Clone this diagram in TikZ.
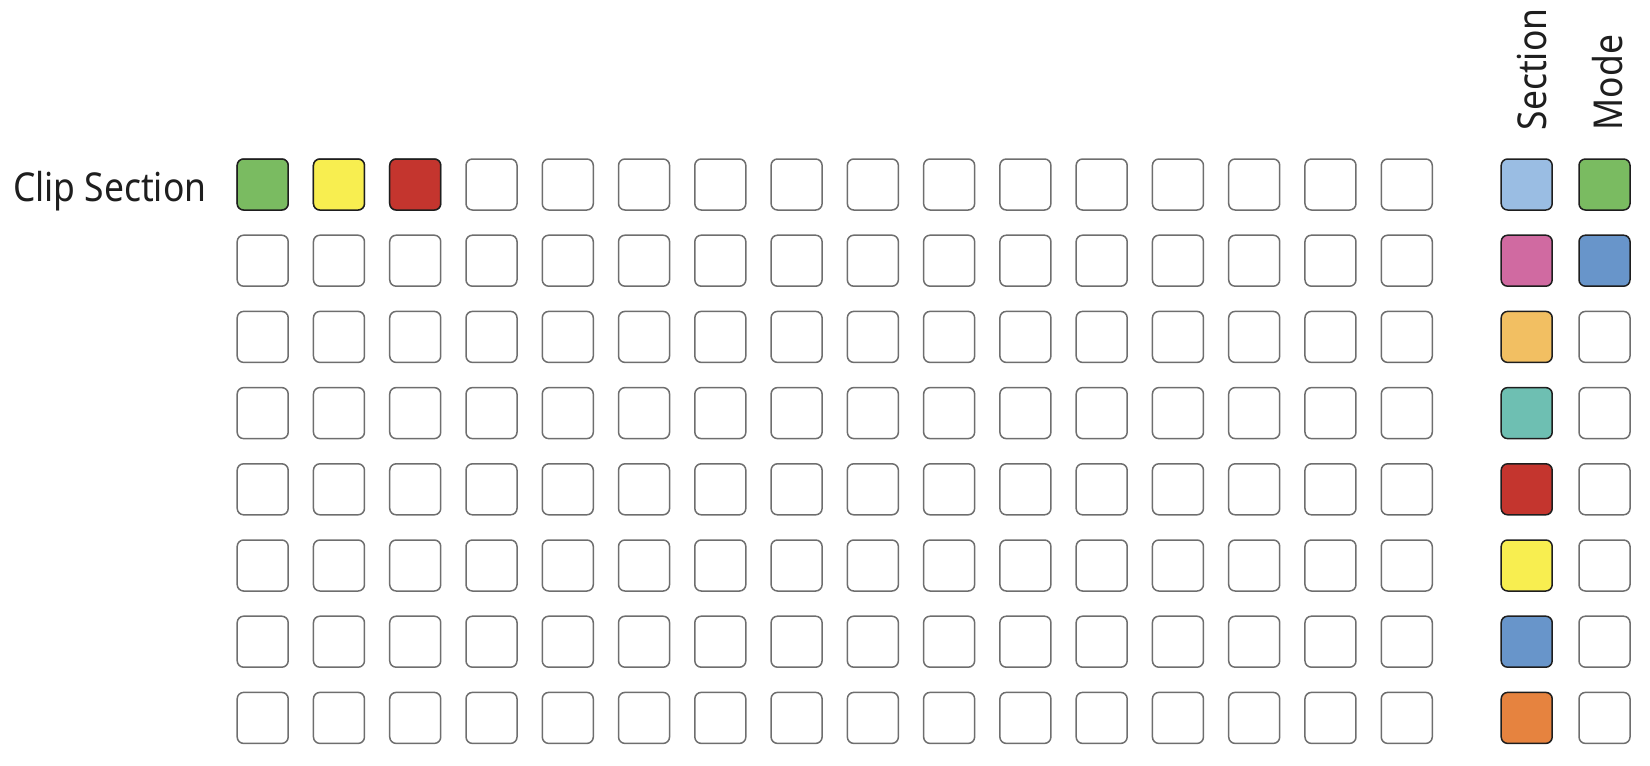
\documentclass[tikz,border=0pt]{standalone}
\usepackage{fontspec}
\setmainfont{Noto Sans}[FakeStretch=0.89]
\definecolor{cgreen}{HTML}{7ABB61}
\definecolor{cyellow}{HTML}{F8EE50}
\definecolor{cred}{HTML}{C4352E}
\definecolor{clblue}{HTML}{9ABDE3}
\definecolor{cpink}{HTML}{D06AA1}
\definecolor{clorange}{HTML}{F2BF62}
\definecolor{cteal}{HTML}{6EBFB2}
\definecolor{cblue}{HTML}{6895CA}
\definecolor{corange}{HTML}{E6833F}
\definecolor{cempty}{HTML}{6E6E6E}
\definecolor{ctext}{HTML}{1E1E1E}
\tikzset{
  pad/.style={draw=cempty, fill=white, line width=0.75pt, rounded corners=3.2pt,
    minimum size=25.5pt, inner sep=0pt, shape=rectangle},
  padon/.style={pad, draw=ctext, fill=#1},
  lbl/.style={text=ctext, font=\fontsize{19.9pt}{24pt}\selectfont, inner sep=0pt}
}
\begin{document}
\begin{tikzpicture}[x=0.5pt,y=-0.5pt]
\useasboundingbox (0,0) rectangle (1650,766);
% grid
\foreach \r in {0,...,7}{
  \foreach \c in {0,...,15}{
    \node[pad] (g-\r-\c) at ({262.7+76.27*\c},{184.5+76.2*\r}) {};
  }
}
\node[padon=cgreen]  (g-0-0) at (262.7,184.5) {};
\node[padon=cyellow] (g-0-1) at ({262.7+76.27},184.5) {};
\node[padon=cred]    (g-0-2) at ({262.7+2*76.27},184.5) {};
% section column
\foreach \col [count=\i from 0] in {clblue,cpink,clorange,cteal,cred,cyellow,cblue,corange}{
  \node[padon=\col] (s-\i) at (1526.7,{184.5+76.2*\i}) {};
}
% mode column
\node[padon=cgreen] (m-0) at (1604.5,184.5) {};
\node[padon=cblue]  (m-1) at (1604.5,{184.5+76.2}) {};
\foreach \i in {2,...,7}{
  \node[pad] (m-\i) at (1604.5,{184.5+76.2*\i}) {};
}
% labels
\node[lbl, anchor=base west] (clip) at (12.7,201.7) {Clip Section};
\node[lbl, anchor=base west, rotate=90] (sec) at (1546.7,130.7) {Section};
\node[lbl, anchor=base west, rotate=90] (mode) at (1622.7,130.7) {Mode};
\end{tikzpicture}
\end{document}
